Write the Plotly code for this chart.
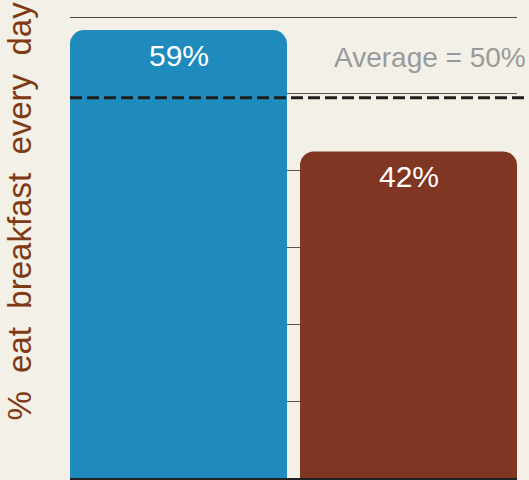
import plotly.graph_objects as go

categories = ["Group A", "Group B"]
values = [58.3, 42.5]
labels = ["59%", "42%"]
colors = ["#1f8bbd", "#7f3623"]
average = 49.5
average_label = "Average = 50%"
y_title = "%  eat  breakfast  every  day"
y_max = 60

x_pos = [0, 1]
fig = go.Figure()
fig.add_trace(go.Bar(
    x=x_pos, y=values, width=0.9435, marker=dict(color=colors, line=dict(width=0)),
    hoverinfo="skip",
))
for xp, v, lab in zip(x_pos, values, labels):
    fig.add_annotation(x=xp, y=v, text=lab, showarrow=False, yanchor="top", yshift=-7,
                       font=dict(family="Liberation Sans, Arial", size=30, color="white"))

fig.add_shape(type="line", xref="paper", yref="y", x0=0, x1=1, y0=y_max, y1=y_max,
              line=dict(color="#111", width=1.5), layer="below")
fig.add_shape(type="line", xref="paper", yref="y", x0=0, x1=1.027, y0=average, y1=average,
              line=dict(color="#1e1e1e", width=3, dash="12px,5px"))
fig.add_annotation(xref="paper", yref="paper", x=1.024, y=0.913, text=average_label,
                   showarrow=False, xanchor="right", yanchor="middle",
                   font=dict(family="Liberation Sans, Arial", size=28, color="#9a9a9a"))
fig.add_annotation(xref="paper", yref="paper", x=-0.112, y=0.580, text=y_title.replace(" ", "&nbsp;"),
                   showarrow=False, textangle=-90, xanchor="center", yanchor="middle",
                   font=dict(family="Liberation Sans, Arial", size=33, color="#7f3a14"))

fig.update_layout(
    width=529, height=480,
    margin=dict(l=70, r=12, t=17, b=2),
    paper_bgcolor="#f2f0e7", plot_bgcolor="#f2f0e7",
    showlegend=False, barcornerradius=14,
    xaxis=dict(range=[-0.4717, 1.4717], showticklabels=False, showgrid=False, zeroline=False,
               showline=True, linecolor="#222", linewidth=2, fixedrange=True),
    yaxis=dict(range=[0, y_max], dtick=10, showticklabels=False, showgrid=True,
               gridcolor="#555", gridwidth=1, zeroline=False),
)
fig.write_html("out.html", config={"displayModeBar": False},
               post_script="document.body.style.margin='0';")
